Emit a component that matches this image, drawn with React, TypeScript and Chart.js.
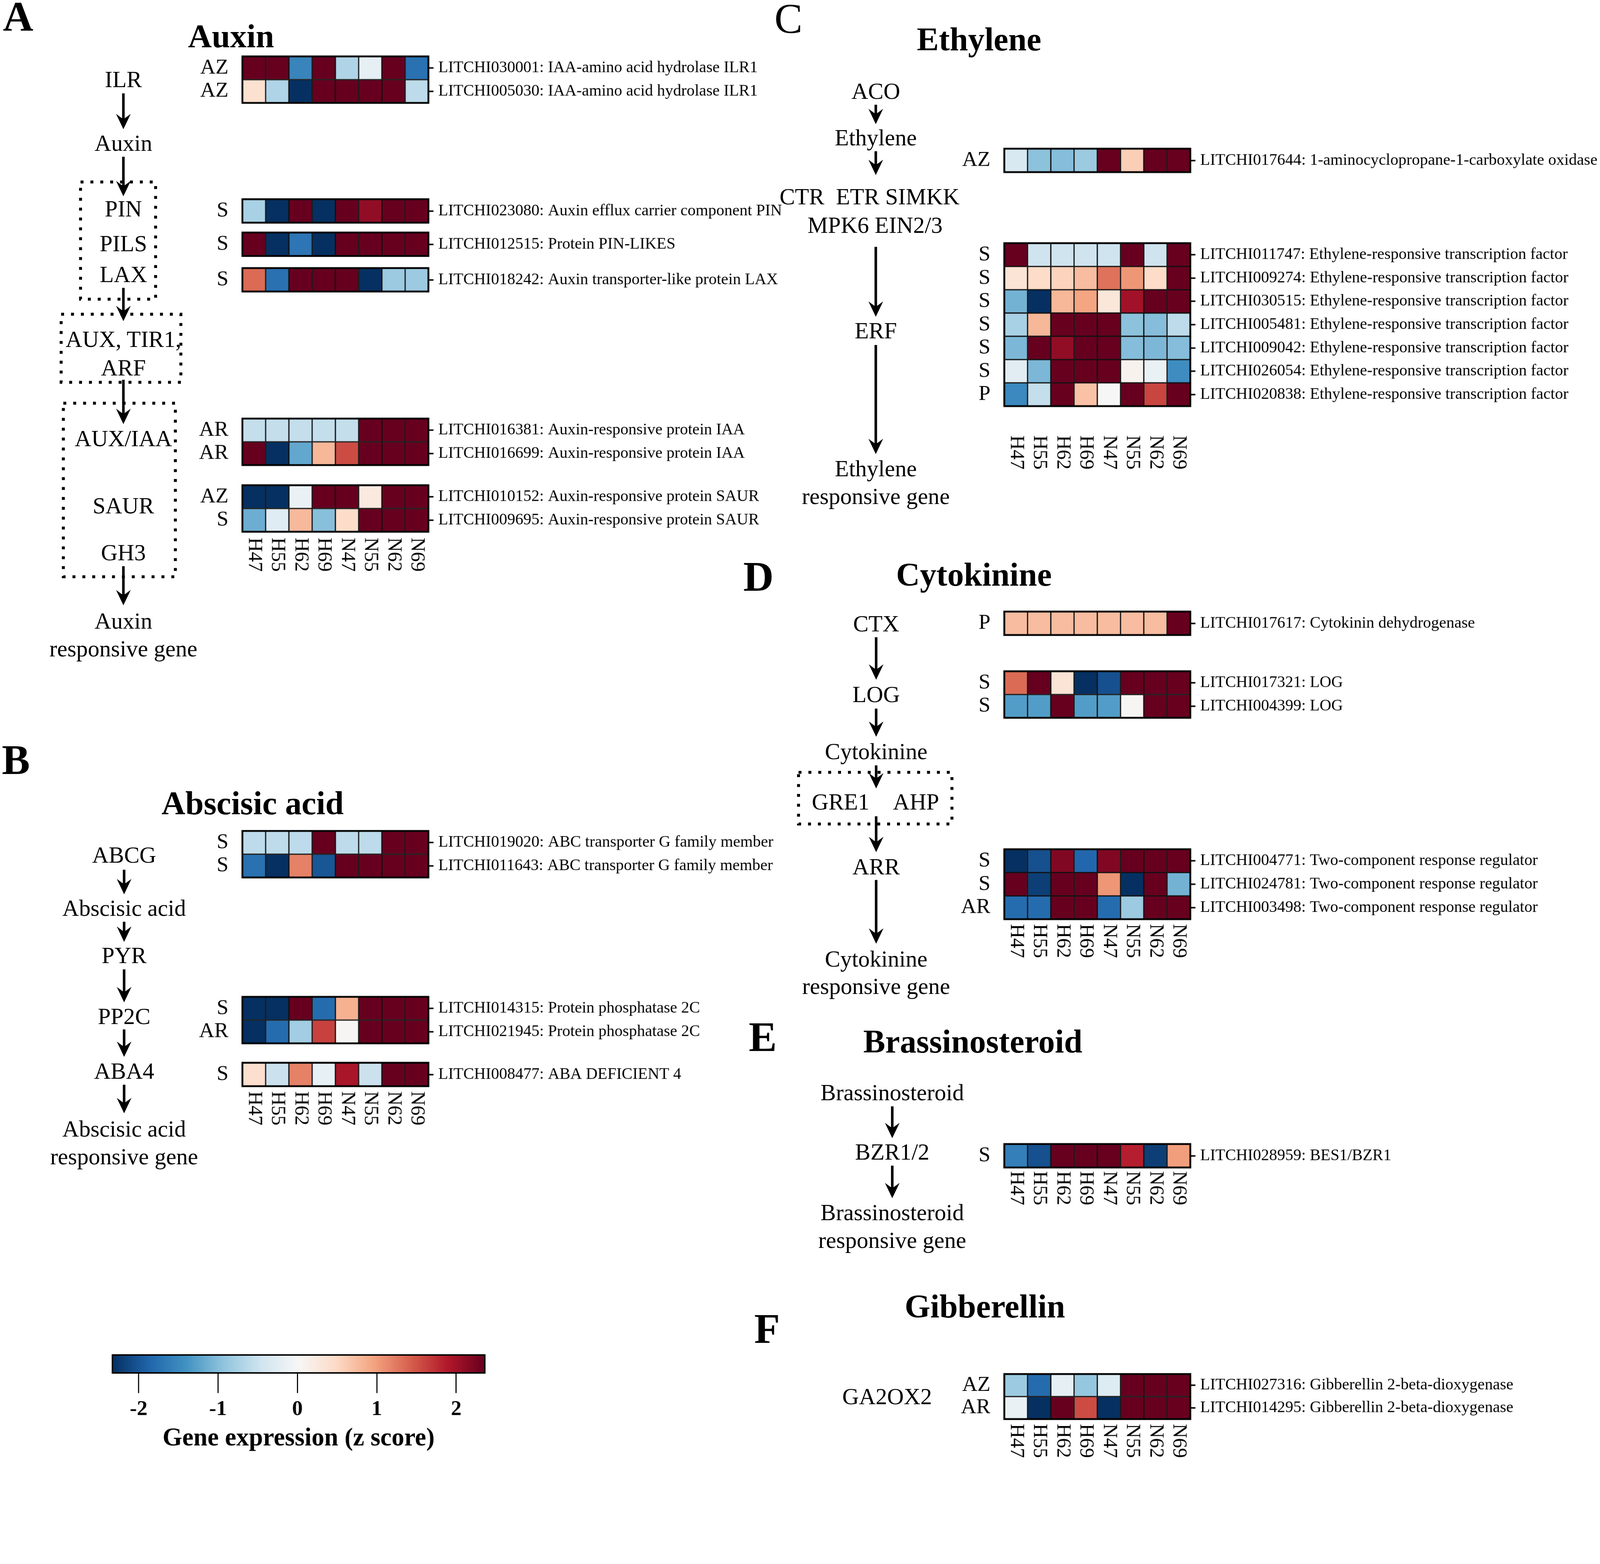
import React, { useEffect, useRef } from 'react';
import { Chart, registerables } from 'chart.js';

Chart.register(...registerables);

const FONT = "'Liberation Serif', 'Times New Roman', serif";

// ---------- data ----------
const samples = ['H47', 'H55', 'H62', 'H69', 'N47', 'N55', 'N62', 'N69'];

// A. Auxin
const ilrGenes = ['LITCHI030001: IAA-amino acid hydrolase ILR1', 'LITCHI005030: IAA-amino acid hydrolase ILR1'];
const ilrTags = ['AZ', 'AZ'];
const ilrZ = [
  [2.6, 2.5, -1.55, 2.6, -0.7, -0.2, 2.5, -1.75],
  [0.4, -0.7, -2.4, 2.5, 2.6, 2.5, 2.5, -0.6],
];
const pinGenes = ['LITCHI023080: Auxin efflux carrier component PIN'];
const pinTags = ['S'];
const pinZ = [[-0.75, -2.4, 2.5, -2.4, 2.5, 2.1, 2.5, 2.5]];
const pilsGenes = ['LITCHI012515: Protein PIN-LIKES'];
const pilsTags = ['S'];
const pilsZ = [[2.5, -2.4, -1.7, -2.4, 2.5, 2.5, 2.5, 2.5]];
const laxGenes = ['LITCHI018242: Auxin transporter-like protein LAX'];
const laxTags = ['S'];
const laxZ = [[1.35, -1.75, 2.5, 2.5, 2.5, -2.35, -0.85, -0.85]];
const iaaGenes = ['LITCHI016381: Auxin-responsive protein IAA', 'LITCHI016699: Auxin-responsive protein IAA'];
const iaaTags = ['AR', 'AR'];
const iaaZ = [
  [-0.55, -0.55, -0.55, -0.55, -0.55, 2.5, 2.5, 2.5],
  [2.5, -2.4, -1.2, 0.8, 1.55, 2.5, 2.5, 2.5],
];
const saurGenes = ['LITCHI010152: Auxin-responsive protein SAUR', 'LITCHI009695: Auxin-responsive protein SAUR'];
const saurTags = ['AZ', 'S'];
const saurZ = [
  [-2.4, -2.35, -0.15, 2.5, 2.5, 0.25, 2.5, 2.5],
  [-1.15, -0.27, 0.78, -0.98, 0.45, 2.5, 2.5, 2.5],
];

// B. Abscisic acid
const abcgGenes = ['LITCHI019020: ABC transporter G family member', 'LITCHI011643: ABC transporter G family member'];
const abcgTags = ['S', 'S'];
const abcgZ = [
  [-0.6, -0.6, -0.6, 2.5, -0.6, -0.6, 2.5, 2.5],
  [-1.75, -2.35, 1.2, -2.0, 2.5, 2.5, 2.5, 2.5],
];
const pp2cGenes = ['LITCHI014315: Protein phosphatase 2C', 'LITCHI021945: Protein phosphatase 2C'];
const pp2cTags = ['S', 'AR'];
const pp2cZ = [
  [-2.4, -2.35, 2.5, -1.8, 0.85, 2.5, 2.5, 2.5],
  [-2.35, -1.8, -0.8, 1.62, 0.05, 2.5, 2.5, 2.5],
];
const aba4Genes = ['LITCHI008477: ABA DEFICIENT 4'];
const aba4Tags = ['S'];
const aba4Z = [[0.42, -0.5, 1.2, -0.18, 1.95, -0.5, 2.5, 2.5]];

// C. Ethylene
const acoGenes = ['LITCHI017644: 1-aminocyclopropane-1-carboxylate oxidase'];
const acoTags = ['AZ'];
const acoZ = [[-0.35, -0.95, -1.0, -0.85, 2.5, 0.6, 2.5, 2.5]];
const erfGenes = [
  'LITCHI011747: Ethylene-responsive transcription factor',
  'LITCHI009274: Ethylene-responsive transcription factor',
  'LITCHI030515: Ethylene-responsive transcription factor',
  'LITCHI005481: Ethylene-responsive transcription factor',
  'LITCHI009042: Ethylene-responsive transcription factor',
  'LITCHI026054: Ethylene-responsive transcription factor',
  'LITCHI020838: Ethylene-responsive transcription factor',
];
const erfTags = ['S', 'S', 'S', 'S', 'S', 'S', 'P'];
const erfZ = [
  [2.5, -0.47, -0.47, -0.47, -0.47, 2.5, -0.47, 2.5],
  [0.35, 0.45, 0.55, 0.75, 1.3, 1.05, 0.45, 2.5],
  [-1.1, -2.4, 0.8, 0.95, 0.3, 2.0, 2.5, 2.5],
  [-0.75, 0.8, 2.5, 2.5, 2.5, -0.95, -1.0, -0.6],
  [-1.05, 2.5, 2.1, 2.5, 2.5, -1.0, -1.05, -1.0],
  [-0.25, -1.05, 2.5, 2.5, 2.5, 0.1, -0.15, -1.45],
  [-1.5, -0.55, 2.5, 0.7, 0.0, 2.5, 1.6, 2.5],
];

// D. Cytokinine
const ckxGenes = ['LITCHI017617: Cytokinin dehydrogenase'];
const ckxTags = ['P'];
const ckxZ = [[0.75, 0.75, 0.75, 0.75, 0.75, 0.75, 0.75, 2.5]];
const logGenes = ['LITCHI017321: LOG', 'LITCHI004399: LOG'];
const logTags = ['S', 'S'];
const logZ = [
  [1.35, 2.5, 0.35, -2.4, -2.05, 2.5, 2.5, 2.5],
  [-1.3, -1.3, 2.5, -1.3, -1.3, 0.05, 2.5, 2.5],
];
const arrGenes = [
  'LITCHI004771: Two-component response regulator',
  'LITCHI024781: Two-component response regulator',
  'LITCHI003498: Two-component response regulator',
];
const arrTags = ['S', 'S', 'AR'];
const arrZ = [
  [-2.35, -2.05, 2.2, -1.85, 2.2, 2.5, 2.5, 2.5],
  [2.5, -2.2, 2.5, 2.5, 1.05, -2.35, 2.5, -1.1],
  [-1.8, -1.8, 2.5, 2.5, -1.8, -0.85, 2.5, 2.5],
];

// E. Brassinosteroid
const bzrGenes = ['LITCHI028959: BES1/BZR1'];
const bzrTags = ['S'];
const bzrZ = [[-1.6, -2.05, 2.5, 2.5, 2.5, 1.85, -2.2, 1.0]];

// F. Gibberellin
const ga2oxGenes = ['LITCHI027316: Gibberellin 2-beta-dioxygenase', 'LITCHI014295: Gibberellin 2-beta-dioxygenase'];
const ga2oxTags = ['AZ', 'AR'];
const ga2oxZ = [
  [-0.85, -1.8, -0.2, -0.9, -0.3, 2.5, 2.5, 2.5],
  [-0.15, -2.4, 2.5, 1.55, -2.35, 2.5, 2.5, 2.5],
];

// colour scale
const colorbarRange = [-2.33, 2.36];
const colorbarTicks = [-2, -1, 0, 1, 2];
const rdbuStops = ['#053061', '#2166ac', '#4393c3', '#92c5de', '#d1e5f0', '#f7f7f7', '#fddbc7', '#f4a582', '#d6604d', '#b2182b', '#67001f'];

// ---------- helpers ----------
function hexToRgb(h: string) {
  return [parseInt(h.slice(1, 3), 16), parseInt(h.slice(3, 5), 16), parseInt(h.slice(5, 7), 16)];
}
const stopRgb = rdbuStops.map(hexToRgb);
function zColor(z: number) {
  let t = (z - colorbarRange[0]) / (colorbarRange[1] - colorbarRange[0]);
  t = Math.max(0, Math.min(1, t));
  const n = stopRgb.length - 1;
  const i = Math.min(n - 1, Math.floor(t * n));
  const f = t * n - i;
  const a = stopRgb[i], b = stopRgb[i + 1];
  const c = a.map((v, k) => Math.round(v + (b[k] - v) * f));
  return `rgb(${c[0]},${c[1]},${c[2]})`;
}

const framePlugin = (lw: number) => ({
  id: 'frame',
  afterDatasetsDraw(chart: any) {
    const { ctx, chartArea: a } = chart;
    ctx.save();
    ctx.strokeStyle = '#000';
    ctx.lineWidth = lw;
    ctx.strokeRect(a.left, a.top, a.right - a.left, a.bottom - a.top);
    ctx.restore();
  },
});

// ---------- layout (in reference pixels; whole page scaled to the viewport) ----------
const PAGE_W = 4370;
const PAGE_H = 4003;
const CELL_W = 63.5;
const LEFT_W = 200;
const RIGHT_W = 1118;

type HM = { genes: string[]; tags: string[]; z: number[][]; x: number; y: number; cellH?: number; gap?: number };

const heatmaps: HM[] = [
  { genes: ilrGenes, tags: ilrTags, z: ilrZ, x: 662, y: 154 },
  { genes: pinGenes, tags: pinTags, z: pinZ, x: 662, y: 544 },
  { genes: pilsGenes, tags: pilsTags, z: pilsZ, x: 662, y: 635 },
  { genes: laxGenes, tags: laxTags, z: laxZ, x: 662, y: 732 },
  { genes: iaaGenes, tags: iaaTags, z: iaaZ, x: 662, y: 1143 },
  { genes: saurGenes, tags: saurTags, z: saurZ, x: 662, y: 1325, gap: 16 },
  { genes: abcgGenes, tags: abcgTags, z: abcgZ, x: 662, y: 2269 },
  { genes: pp2cGenes, tags: pp2cTags, z: pp2cZ, x: 662, y: 2722 },
  { genes: aba4Genes, tags: aba4Tags, z: aba4Z, x: 662, y: 2902, gap: 14 },
  { genes: acoGenes, tags: acoTags, z: acoZ, x: 2743, y: 406 },
  { genes: erfGenes, tags: erfTags, z: erfZ, x: 2743, y: 664, gap: 80 },
  { genes: ckxGenes, tags: ckxTags, z: ckxZ, x: 2743, y: 1670 },
  { genes: logGenes, tags: logTags, z: logZ, x: 2743, y: 1833 },
  { genes: arrGenes, tags: arrTags, z: arrZ, x: 2743, y: 2319, gap: 13 },
  { genes: bzrGenes, tags: bzrTags, z: bzrZ, x: 2743, y: 3124, gap: 10 },
  { genes: ga2oxGenes, tags: ga2oxTags, z: ga2oxZ, x: 2743, y: 3752, cellH: 61.5, gap: 13 },
];

const noPad = (s: any) => { s.paddingTop = 0; s.paddingBottom = 0; };

function Heatmap({ genes, tags, z, x, y, cellH = 63.6, gap }: HM) {
  const ref = useRef<HTMLCanvasElement>(null);
  const PT = 6;
  const PB = gap !== undefined ? gap + 110 : 6;
  const width = Math.round(LEFT_W + CELL_W * 8 + RIGHT_W);
  const height = Math.round(PT + cellH * genes.length + PB);
  useEffect(() => {
    const sampleLabels = {
      id: 'sampleLabels',
      afterDraw(chart: any) {
        if (gap === undefined) return;
        const xs = chart.scales.x;
        const { ctx, chartArea } = chart;
        ctx.save();
        ctx.font = `54px ${FONT}`;
        ctx.fillStyle = '#000';
        ctx.textAlign = 'left';
        ctx.textBaseline = 'middle';
        samples.forEach((s, j) => {
          const px = xs.getPixelForValue(j + 0.5);
          ctx.save();
          ctx.translate(px, chartArea.bottom + gap);
          ctx.rotate(Math.PI / 2);
          ctx.fillText(s, 0, 0);
          ctx.restore();
        });
        ctx.restore();
      },
    };
    const chart = new Chart(ref.current as HTMLCanvasElement, {
      type: 'bar',
      data: {
        labels: genes,
        datasets: samples.map((s, j) => ({
          label: s,
          data: genes.map(() => [j, j + 1]),
          backgroundColor: z.map((row) => zColor(row[j])),
          borderColor: '#111',
          borderWidth: 2,
          borderSkipped: false,
          barPercentage: 1,
          categoryPercentage: 1,
          grouped: false,
        })),
      } as any,
      options: {
        indexAxis: 'y',
        responsive: false,
        animation: false,
        devicePixelRatio: 1,
        layout: { padding: { top: PT, bottom: PB, left: 0, right: 0 } },
        plugins: { legend: { display: false }, tooltip: { enabled: false } },
        scales: {
          x: { type: 'linear', min: 0, max: 8, display: false },
          y: {
            type: 'category',
            position: 'right',
            offset: true,
            grid: { display: true, drawOnChartArea: false, drawTicks: true, tickLength: 14, tickWidth: 4, tickColor: '#000', offset: false },
            border: { display: false },
            ticks: { color: '#000', font: { family: FONT, size: 44 }, padding: 13, autoSkip: false },
            afterFit: (s: any) => { s.width = RIGHT_W; noPad(s); },
          },
          yL: {
            type: 'category',
            labels: tags,
            position: 'left',
            offset: true,
            grid: { display: false },
            border: { display: false },
            ticks: { color: '#000', font: { family: FONT, size: 58 }, padding: 30, autoSkip: false },
            afterFit: (s: any) => { s.width = LEFT_W; noPad(s); },
          },
        },
      } as any,
      plugins: [framePlugin(5), sampleLabels],
    });
    return () => chart.destroy();
  }, []);
  return (
    <canvas
      ref={ref}
      width={width}
      height={height}
      style={{ position: 'absolute', left: x - LEFT_W, top: y - PT, width, height }}
    />
  );
}

function Colorbar() {
  const ref = useRef<HTMLCanvasElement>(null);
  const left = 307, right = 1324, top = 3700, barH = 49;
  const PL = 20, PR = 60, PT = 10, AX = 222;
  const width = right - left + PL + PR;
  const height = PT + barH + AX;
  useEffect(() => {
    const chart = new Chart(ref.current as HTMLCanvasElement, {
      type: 'bar',
      data: {
        labels: ['z score'],
        datasets: [{
          data: [colorbarRange],
          backgroundColor: (c: any) => {
            const ch = c.chart;
            const a = ch.chartArea;
            if (!a) return '#f7f7f7';
            const g = ch.ctx.createLinearGradient(a.left, 0, a.right, 0);
            rdbuStops.forEach((col, i) => g.addColorStop(i / (rdbuStops.length - 1), col));
            return g;
          },
          borderWidth: 0,
          barPercentage: 1,
          categoryPercentage: 1,
        }],
      } as any,
      options: {
        indexAxis: 'y',
        responsive: false,
        animation: false,
        devicePixelRatio: 1,
        layout: { padding: { left: PL, right: PR, top: PT, bottom: 0 } },
        plugins: { legend: { display: false }, tooltip: { enabled: false } },
        scales: {
          x: {
            type: 'linear',
            min: colorbarRange[0],
            max: colorbarRange[1],
            afterBuildTicks: (s: any) => { s.ticks = colorbarTicks.map((v) => ({ value: v })); },
            ticks: { color: '#000', font: { family: FONT, size: 58, weight: 'bold' }, padding: 10 },
            grid: { drawOnChartArea: false, drawTicks: true, tickLength: 55, tickWidth: 3, tickColor: '#000' },
            border: { display: false },
            title: { display: true, text: 'Gene expression (z score)', color: '#000', font: { family: FONT, size: 69, weight: 'bold' }, padding: 0 },
            afterFit: (s: any) => { s.height = AX; },
          },
          y: { display: false },
        },
      } as any,
      plugins: [framePlugin(4)],
    });
    return () => chart.destroy();
  }, []);
  return (
    <canvas
      ref={ref}
      width={width}
      height={height}
      style={{ position: 'absolute', left: left - PL, top: top - PT, width, height }}
    />
  );
}

// ---------- pathway diagrams ----------
type T = { t: string; x: number; y: number };
const nodes: T[] = [
  { t: 'ILR', x: 337, y: 238 }, { t: 'Auxin', x: 337, y: 412 },
  { t: 'PIN', x: 337, y: 591 }, { t: 'PILS', x: 337, y: 686 }, { t: 'LAX', x: 337, y: 770 },
  { t: 'AUX, TIR1,', x: 337, y: 947 }, { t: 'ARF', x: 337, y: 1025 },
  { t: 'AUX/IAA', x: 337, y: 1218 }, { t: 'SAUR', x: 337, y: 1402 }, { t: 'GH3', x: 337, y: 1530 },
  { t: 'Auxin', x: 337, y: 1717 }, { t: 'responsive gene', x: 337, y: 1792 },
  { t: 'ABCG', x: 339, y: 2356 }, { t: 'Abscisic acid', x: 339, y: 2501 }, { t: 'PYR', x: 339, y: 2630 },
  { t: 'PP2C', x: 339, y: 2796 }, { t: 'ABA4', x: 339, y: 2946 },
  { t: 'Abscisic acid', x: 339, y: 3104 }, { t: 'responsive gene', x: 339, y: 3179 },
  { t: 'ACO', x: 2392, y: 270 }, { t: 'Ethylene', x: 2392, y: 397 },
  { t: 'CTR  ETR SIMKK', x: 2375, y: 558 }, { t: 'MPK6 EIN2/3', x: 2390, y: 636 },
  { t: 'ERF', x: 2392, y: 924 }, { t: 'Ethylene', x: 2392, y: 1301 }, { t: 'responsive gene', x: 2392, y: 1376 },
  { t: 'CTX', x: 2393, y: 1724 }, { t: 'LOG', x: 2393, y: 1917 }, { t: 'Cytokinine', x: 2393, y: 2073 },
  { t: 'GRE1', x: 2296, y: 2211 }, { t: 'AHP', x: 2502, y: 2211 }, { t: 'ARR', x: 2393, y: 2388 },
  { t: 'Cytokinine', x: 2393, y: 2640 }, { t: 'responsive gene', x: 2393, y: 2714 },
  { t: 'Brassinosteroid', x: 2437, y: 3004 }, { t: 'BZR1/2', x: 2437, y: 3167 },
  { t: 'Brassinosteroid', x: 2437, y: 3332 }, { t: 'responsive gene', x: 2437, y: 3408 },
  { t: 'GA2OX2', x: 2423, y: 3834 },
];
const titles: T[] = [
  { t: 'Auxin', x: 631, y: 129 }, { t: 'Ethylene', x: 2674, y: 138 },
  { t: 'Abscisic acid', x: 690, y: 2223 }, { t: 'Cytokinine', x: 2660, y: 1599 },
  { t: 'Brassinosteroid', x: 2657, y: 2874 }, { t: 'Gibberellin', x: 2690, y: 3598 },
];
const letters = [
  { t: 'A', x: 8, y: 84, bold: true }, { t: 'B', x: 5, y: 2113, bold: true },
  { t: 'C', x: 2115, y: 90, bold: false }, { t: 'D', x: 2030, y: 1613, bold: true },
  { t: 'E', x: 2045, y: 2870, bold: true }, { t: 'F', x: 2060, y: 3667, bold: true },
];
const arrows = [
  [337, 255, 353], [337, 428, 536], [337, 786, 877], [337, 1037, 1158], [337, 1546, 1653],
  [339, 2375, 2442], [339, 2517, 2572], [339, 2647, 2737], [339, 2811, 2886], [339, 2962, 3040],
  [2392, 286, 339], [2392, 413, 478], [2392, 674, 865], [2392, 942, 1240],
  [2393, 1740, 1856], [2393, 1935, 2012], [2393, 2090, 2153], [2393, 2229, 2327], [2393, 2403, 2577],
  [2437, 3021, 3108], [2437, 3183, 3272],
];
const boxes = [
  [220, 497, 205, 320], [167, 858, 327, 186], [173, 1101, 306, 474], [2181, 2109, 419, 141],
];

function Diagram() {
  return (
    <svg width={PAGE_W} height={PAGE_H} style={{ position: 'absolute', left: 0, top: 0 }} fontFamily={FONT}>
      {boxes.map(([x, y, w, h], i) => (
        <rect key={'b' + i} x={x} y={y} width={w} height={h} fill="none" stroke="#000" strokeWidth={8} strokeDasharray="8 19" />
      ))}
      {arrows.map(([x, y1, y2], i) => (
        <g key={'a' + i}>
          <line x1={x} y1={y1} x2={x} y2={y2 - 24} stroke="#000" strokeWidth={7} />
          <path d={`M${x} ${y2} L${x - 20} ${y2 - 42} Q${x - 4} ${y2 - 30} ${x} ${y2 - 28} Q${x + 4} ${y2 - 30} ${x + 20} ${y2 - 42} Z`} fill="#000" />
        </g>
      ))}
      {nodes.map((n, i) => (
        <text key={'n' + i} x={n.x} y={n.y} fontSize={63} textAnchor="middle" fill="#000" style={{ whiteSpace: 'pre' }}>{n.t}</text>
      ))}
      {titles.map((n, i) => (
        <text key={'t' + i} x={n.x} y={n.y} fontSize={90} fontWeight="bold" textAnchor="middle" fill="#000">{n.t}</text>
      ))}
      {letters.map((n, i) => (
        <text key={'l' + i} x={n.x} y={n.y} fontSize={115} fontWeight={n.bold ? 'bold' : 'normal'} fill="#000">{n.t}</text>
      ))}
    </svg>
  );
}

export default function App() {
  const vw = typeof window !== 'undefined' ? (document.documentElement.clientWidth || window.innerWidth) : PAGE_W;
  const k = Math.min(1, vw / PAGE_W);
  return (
    <div style={{ position: 'absolute', left: 0, top: 0, width: PAGE_W * k, height: PAGE_H * k, overflow: 'hidden', background: '#fff' }}>
      <div style={{ position: 'absolute', left: 0, top: 0, width: PAGE_W, height: PAGE_H, transform: `scale(${k})`, transformOrigin: '0 0' }}>
        <Diagram />
        {heatmaps.map((h, i) => (
          <Heatmap key={i} {...h} />
        ))}
        <Colorbar />
      </div>
    </div>
  );
}
